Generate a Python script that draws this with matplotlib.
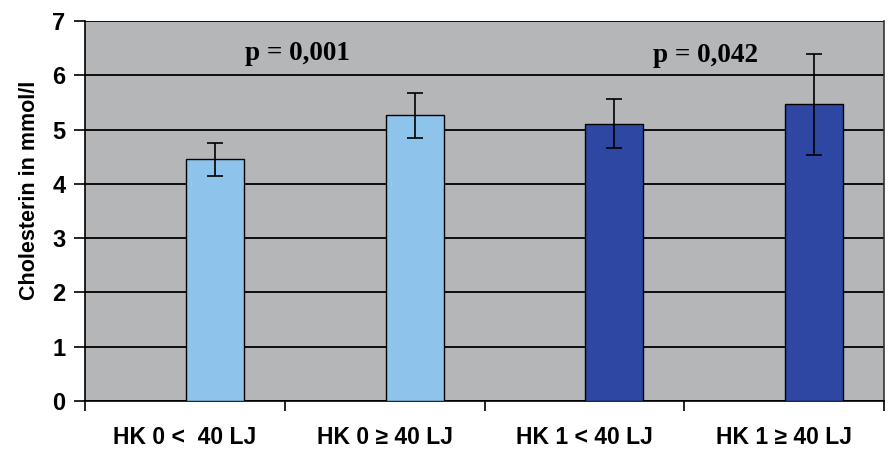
import matplotlib
matplotlib.use("Agg")
import matplotlib.pyplot as plt
import numpy as np

categories = ["HK 0 <  40 LJ", "HK 0 \u2265 40 LJ", "HK 1 < 40 LJ", "HK 1 \u2265 40 LJ"]
means = [4.45, 5.26, 5.11, 5.47]
errors = [0.30, 0.42, 0.45, 0.93]
colors = ["#8EC3EC", "#8EC3EC", "#2D47A3", "#2D47A3"]
y_ticks = [0, 1, 2, 3, 4, 5, 6, 7]
p_labels = ["p = 0,001", "p = 0,042"]
p_pos = [(0.566, 6.41), (2.604, 6.37)]

fam = ["Liberation Sans", "DejaVu Sans"]

fig = plt.figure(figsize=(8.93, 4.53), dpi=100)
ax = fig.add_axes([85/893, 1-401/453, (884-85)/893, (401-21)/453])
ax.set_facecolor("#B4B6B8")

x = np.arange(len(categories))
ax.bar(x + 0.15, means, width=0.29, color=colors, edgecolor="black", linewidth=1.0, zorder=3)
ax.errorbar(x + 0.15, means, yerr=errors, fmt="none", ecolor="black", elinewidth=1.2,
            capsize=6, capthick=1.2, zorder=4)

ax.set_xlim(-0.5, 3.5)
ax.set_ylim(0, 7)
ax.set_yticks(y_ticks)
ax.set_yticklabels([str(v) for v in y_ticks], family=fam, fontweight="bold", fontsize=17)
ax.set_xticks(x)
ax.set_xticklabels(categories, family=fam, fontweight="bold", fontsize=16.5)
ax.tick_params(axis="x", length=0, pad=18)
ax.set_xticks(np.arange(-0.5, 4.0, 1.0), minor=True)
ax.tick_params(axis="x", which="minor", length=7, width=1.2, direction="out")
ax.tick_params(axis="y", length=8, width=1.2, direction="out", pad=6)
ax.yaxis.grid(True, color="black", linewidth=1.3, zorder=1)
ax.set_axisbelow(True)
ax.spines["top"].set_visible(False)
ax.spines["right"].set_color("#333333")
for s in ["left", "bottom", "right"]:
    ax.spines[s].set_linewidth(1.2)

ax.set_ylabel("Cholesterin in mmol/l", family=fam, fontweight="bold", fontsize=15.5)
ax.yaxis.set_label_coords(-0.056, 0.555)

for txt, (px, py) in zip(p_labels, p_pos):
    ax.text(px, py, txt, family=["Liberation Serif", "DejaVu Serif"], fontweight="bold",
            fontsize=19.5, ha="center", va="center", zorder=5)

fig.savefig("out.png", dpi=100)
